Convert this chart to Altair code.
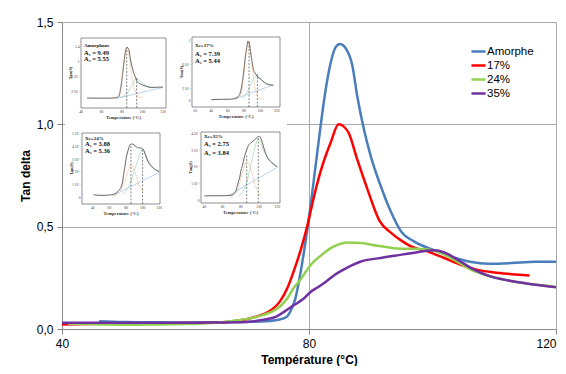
import altair as alt
import pandas as pd

# ---------------- main series (Tan delta vs temperature) ----------------
SERIES = ["Amorphe", "17%", "24%", "35%"]
COLORS = ["#4A7EBB", "#FF0000", "#92D050", "#7030A0"]

amorphe_T = [46, 50, 55, 60, 65, 70, 73, 75, 76.4, 77.2, 77.8, 78.6, 79.2, 79.8, 80.5, 81.2, 82.0, 82.7,
             83.5, 84.3, 85.0, 86.1, 87.0, 87.8, 88.9, 90.0, 91.6, 93.3, 94.9, 97.0, 100.3, 103.0, 106.3,
             109.0, 112.8, 116.6, 120]
amorphe_y = [0.038, 0.034, 0.033, 0.032, 0.033, 0.035, 0.038, 0.045, 0.06, 0.10, 0.15, 0.27, 0.38, 0.50,
             0.66, 0.83, 1.02, 1.17, 1.30, 1.376, 1.392, 1.364, 1.29, 1.14, 0.975, 0.845, 0.70, 0.57,
             0.477, 0.428, 0.384, 0.354, 0.327, 0.319, 0.322, 0.328, 0.328]

c17_T = [40, 45, 50, 55, 60, 65, 67.1, 70.4, 72.6, 74.0, 75.3, 76.5, 77.5, 78.6, 79.7, 80.6, 81.5, 82.4,
         83.5, 84.8, 85.6, 86.4, 87.8, 89.5, 91.4, 93.3, 94.9, 96.5, 99.2, 101.9, 104.6, 107.3, 110.0,
         112.8, 115.7]
c17_y = [0.022, 0.025, 0.027, 0.028, 0.029, 0.032, 0.036, 0.052, 0.072, 0.095, 0.135, 0.20, 0.28, 0.38,
         0.50, 0.62, 0.73, 0.82, 0.91, 1.0, 0.99, 0.96, 0.83, 0.68, 0.53, 0.47, 0.433, 0.404, 0.379,
         0.347, 0.314, 0.289, 0.276, 0.268, 0.261]

c24_T = [41, 45, 50, 55, 60, 65, 68.2, 70.4, 72.6, 74.0, 75.3, 76.5, 77.5, 78.6, 79.7, 80.8, 82.4, 83.5,
         84.5, 86.2, 88.4, 91.1, 93.8, 96.5, 98.1, 100.8, 103.5, 106.3, 109.0, 112.3, 115.5, 119.8]
c24_y = [0.026, 0.023, 0.021, 0.022, 0.024, 0.030, 0.041, 0.052, 0.069, 0.085, 0.11, 0.15, 0.20, 0.24,
         0.29, 0.33, 0.37, 0.395, 0.41, 0.423, 0.42, 0.407, 0.395, 0.392, 0.391, 0.379, 0.338, 0.289,
         0.26, 0.237, 0.221, 0.207]

c35_T = [40, 45, 50, 55, 60, 65, 68, 70.4, 72.6, 74.7, 76.0, 77.5, 79.0, 80.2, 81.5, 82.9, 84.2, 85.6,
         87.0, 88.4, 91.1, 93.8, 96.5, 98.5, 100.3, 101.9, 104.1, 106.8, 109.5, 112.3, 115.5, 120]
c35_y = [0.030, 0.031, 0.031, 0.031, 0.031, 0.032, 0.033, 0.036, 0.045, 0.06, 0.085, 0.115, 0.145, 0.18,
         0.205, 0.235, 0.265, 0.29, 0.312, 0.33, 0.345, 0.358, 0.37, 0.38, 0.385, 0.374, 0.338, 0.289,
         0.256, 0.237, 0.221, 0.204]

X_TICKS = [40, 80, 120]
Y_TICKS = [0.0, 0.5, 1.0, 1.5]

# ---------------- inset data (deconvolution panels) ----------------
inset_titles = [["Amorphous", "A\u2081 = 9.49", "A\u2082 = 5.55"],
                ["Xc=17%", "A\u2081 = 7.39", "A\u2082 = 5.44"],
                ["Xc=24%", "A\u2081 = 3.88", "A\u2082 = 5.36"],
                ["Xc=35%", "A\u2081 = 2.75", "A\u2082 = 3.84"]]
inset_text_y = [[1.45, 1.23, 1.07], [0.93, 0.78, 0.67], [0.47, 0.42, 0.364], [0.387, 0.337, 0.288]]
inset_xticks = [[40, 60, 80, 100, 120], [20, 40, 60, 80, 100, 120], [40, 60, 80, 100, 120], [40, 60, 80, 100, 120]]
inset_yticks = [[1.4, 1.0, 0.6, 0.2], [1.0, 0.6, 0.2, 0.0], [0.5, 0.4, 0.3, 0.2, 0.1, 0.0], [0.4, 0.3, 0.2, 0.1, 0.0]]
inset_ylabels = [["1.4", "1", "6 10\u207b\u00b9", "2 10\u207b\u00b9"],
                 ["1", "6 10\u207b\u00b9", "2 10\u207b\u00b9", "0"],
                 ["5 10\u207b\u00b9", "4 10\u207b\u00b9", "3 10\u207b\u00b9", "2 10\u207b\u00b9", "1 10\u207b\u00b9", "0"],
                 ["4 10\u207b\u00b9", "3 10\u207b\u00b9", "2 10\u207b\u00b9", "1 10\u207b\u00b9", "0"]]
inset_xdom = [[40, 122.9], [16.3, 124], [27, 121], [36.4, 123]]
inset_ydom = [[-0.23, 1.64], [-0.1, 1.067], [-0.046, 0.508], [-0.012, 0.41]]

fit1_T = [[70, 76, 79, 82, 84.6, 87, 89, 91, 93, 96, 100],
          [70, 76, 80, 83, 86.1, 88.5, 91, 94, 98, 104],
          [66, 74, 80, 86, 91, 96, 102],
          [68, 76, 82, 86.5, 91, 96, 102]]
fit1_y = [[0.04, 0.1, 0.4, 1.0, 1.38, 1.15, 0.75, 0.42, 0.22, 0.08, 0.04],
          [0.03, 0.1, 0.45, 0.85, 1.0, 0.8, 0.45, 0.18, 0.06, 0.03],
          [0.02, 0.06, 0.16, 0.26, 0.2, 0.1, 0.04],
          [0.02, 0.06, 0.17, 0.24, 0.19, 0.09, 0.03]]
fit2_T = [[78, 86, 90, 94.3, 98, 104, 110],
          [78, 84, 90, 96.3, 102, 108, 115],
          [76, 84, 92, 100, 106, 113, 120],
          [78, 86, 93, 99.2, 105, 112, 120]]
fit2_y = [[0.05, 0.2, 0.4, 0.55, 0.48, 0.36, 0.3],
          [0.04, 0.15, 0.33, 0.42, 0.34, 0.28, 0.26],
          [0.03, 0.1, 0.25, 0.38, 0.3, 0.24, 0.21],
          [0.03, 0.1, 0.26, 0.37, 0.3, 0.24, 0.2]]
base_T = [[75, 120], [68, 116], [64, 120], [66, 120]]
base_y = [[0.03, 0.32], [0.03, 0.27], [0.02, 0.2], [0.03, 0.2]]
dash_T = [[84.6, 94.3], [86.1, 96.3], [86, 100], [86.5, 99.2]]
dash_top = [[1.39, 0.6], [1.0, 0.45], [0.42, 0.39], [0.27, 0.385]]

# ---------------- layout (pixels inside the plot area) ----------------
W, H = 494, 307
inset_frames = [(19, 104, 16, 86), (130, 218, 15, 85), (20, 98, 111, 182), (139, 218, 110, 181)]
canvas_box = (3, 225, 11, 196)

FONT = "Liberation Sans"
SERIF = "Liberation Serif"

# ---------------- main chart ----------------
rows = []
for name, Ts, ys in zip(SERIES, [amorphe_T, c17_T, c24_T, c35_T], [amorphe_y, c17_y, c24_y, c35_y]):
    for t, v in zip(Ts, ys):
        rows.append({"series": name, "T": t, "tan": v})
main_df = pd.DataFrame(rows)

main = alt.Chart(main_df).mark_line(strokeWidth=2.5, interpolate="monotone").encode(
    x=alt.X("T:Q", scale=alt.Scale(domain=[40, 120], nice=False, zero=False),
            axis=alt.Axis(values=X_TICKS, title="Température (°C)", labelFontSize=12, labelFont=FONT,
                          labelColor="#000", titleFont=FONT, titleFontSize=12, titleFontWeight="bold",
                          titleColor="#000", titlePadding=5, labelPadding=4, tickSize=5,
                          labelAlign=alt.ExprRef("datum.value == 120 ? 'right' : 'center'"),
                          domainColor="#888", tickColor="#888", gridColor="#aaa", labelFlush=False)),
    y=alt.Y("tan:Q", scale=alt.Scale(domain=[0, 1.5], nice=False, zero=False),
            axis=alt.Axis(values=Y_TICKS, title="Tan delta",
                          labelExpr="replace(format(datum.value, '.1f'), '.', ',')",
                          labelFontSize=12, labelFont=FONT, labelColor="#000", titleFont=FONT,
                          titleFontSize=12, titleFontWeight="bold", titleColor="#000", titlePadding=4,
                          labelPadding=4, tickSize=5, domainColor="#888", tickColor="#888",
                          gridColor="#aaa")),
    color=alt.Color("series:N", scale=alt.Scale(domain=SERIES, range=COLORS), sort=SERIES,
                    legend=alt.Legend(title=None, orient="none", legendX=408, legendY=21,
                                      symbolType="stroke", symbolStrokeWidth=2.5, symbolSize=200,
                                      labelFontSize=11.5, labelFont=FONT, labelColor="#000",
                                      rowPadding=0, labelOffset=0, padding=0)),
)

# white canvas behind the insets
cdf = pd.DataFrame({"a": [0], "b": [1]})
canvas = alt.Chart(cdf).mark_rect(fill="white").encode(
    x=alt.X("a:Q", scale=alt.Scale(domain=[0, 1], range=[canvas_box[0], canvas_box[1]]), axis=None),
    x2=alt.X2("b"),
    y=alt.Y("a:Q", scale=alt.Scale(domain=[0, 1], range=[canvas_box[3], canvas_box[2]]), axis=None),
    y2=alt.Y2("b"),
)


def make_inset(i, cT, cy):
    left, right, top, bottom = inset_frames[i]
    xd, yd = inset_xdom[i], inset_ydom[i]
    xs = alt.Scale(domain=xd, range=[left, right], nice=False, zero=False)
    ys = alt.Scale(domain=yd, range=[bottom, top], nice=False, zero=False)
    X = alt.X("x:Q", scale=xs, axis=None)
    Y = alt.Y("y:Q", scale=ys, axis=None)

    frame = alt.Chart(pd.DataFrame({"x": [xd[0]], "x2": [xd[1]], "y": [yd[0]], "y2": [yd[1]]})).mark_rect(
        fill="white", stroke="#444", strokeWidth=0.6).encode(x=X, x2=alt.X2("x2"), y=Y, y2=alt.Y2("y2"))

    curve_df = pd.DataFrame({"x": cT, "y": cy})
    curve_df = curve_df[(curve_df.x >= xd[0]) & (curve_df.x <= xd[1])]
    curve = alt.Chart(curve_df).mark_line(color="#555", strokeWidth=0.9, interpolate="monotone").encode(x=X, y=Y)

    base = alt.Chart(pd.DataFrame({"x": base_T[i], "y": base_y[i]})).mark_line(
        color="#8fb4e0", strokeWidth=0.6).encode(x=X, y=Y)
    f2 = alt.Chart(pd.DataFrame({"x": fit2_T[i], "y": fit2_y[i]})).mark_line(
        color="#8ccfa0", strokeWidth=0.6, interpolate="monotone").encode(x=X, y=Y)
    f1 = alt.Chart(pd.DataFrame({"x": fit1_T[i], "y": fit1_y[i]})).mark_line(
        color="#e09a5a", strokeWidth=0.7, strokeDash=[1, 1], interpolate="monotone").encode(x=X, y=Y)

    dashes = alt.Chart(pd.DataFrame({"x": dash_T[i], "y": [yd[0]] * 2, "y2": dash_top[i]})).mark_rule(
        color="#333", strokeWidth=0.6, strokeDash=[2, 1.5]).encode(x=X, y=Y, y2=alt.Y2("y2"))

    xt = alt.Chart(pd.DataFrame({"x": inset_xticks[i], "y": [yd[0]] * len(inset_xticks[i]),
                                 "t": [str(v) for v in inset_xticks[i]]})).mark_text(
        font=SERIF, fontSize=3.6, color="#333", baseline="top", yOffset=2).encode(x=X, y=Y, text="t:N")
    yt = alt.Chart(pd.DataFrame({"x": [xd[0]] * len(inset_yticks[i]), "y": inset_yticks[i],
                                 "t": inset_ylabels[i]})).mark_text(
        font=SERIF, fontSize=3.6, color="#333", align="right", xOffset=-1.5).encode(x=X, y=Y, text="t:N")

    xtitle = alt.Chart(pd.DataFrame({"x": [(xd[0] + xd[1]) / 2], "y": [yd[0]], "t": ["Temperature (°C)"]})).mark_text(
        font=SERIF, fontSize=4.6, fontWeight="bold", color="#333", baseline="top", yOffset=7).encode(x=X, y=Y, text="t:N")
    ytitle = alt.Chart(pd.DataFrame({"x": [xd[0]], "y": [(yd[0] + yd[1]) / 2], "t": ["Tan(\u03b4)"]})).mark_text(
        font=SERIF, fontSize=4.4, fontWeight="bold", color="#333", angle=270, xOffset=-10).encode(x=X, y=Y, text="t:N")

    tdf = pd.DataFrame({"x": [xd[0]] * 3, "y": inset_text_y[i], "t": inset_titles[i], "fs": [5, 6.5, 6.5]})
    txt = alt.Chart(tdf).mark_text(font=SERIF, fontWeight="bold", color="#111", align="left", xOffset=3).encode(
        x=X, y=Y, text="t:N", size=alt.Size("fs:Q", scale=None, legend=None))

    return alt.layer(frame, base, f2, dashes, curve, f1, xt, yt, xtitle, ytitle, txt)


insets = [make_inset(0, amorphe_T, amorphe_y), make_inset(1, c17_T, c17_y),
          make_inset(2, c24_T, c24_y), make_inset(3, c35_T, c35_y)]

chart = alt.layer(main, canvas, *insets).resolve_scale(
    x="independent", y="independent"
).properties(
    width=W, height=H,
    autosize=alt.AutoSizeParams(type="none"),
    padding={"left": 54, "top": 14, "right": 2, "bottom": 37},
).configure_view(strokeWidth=0).configure(background="white")

chart.save("out.html", embed_options={"renderer": "svg", "actions": False})
